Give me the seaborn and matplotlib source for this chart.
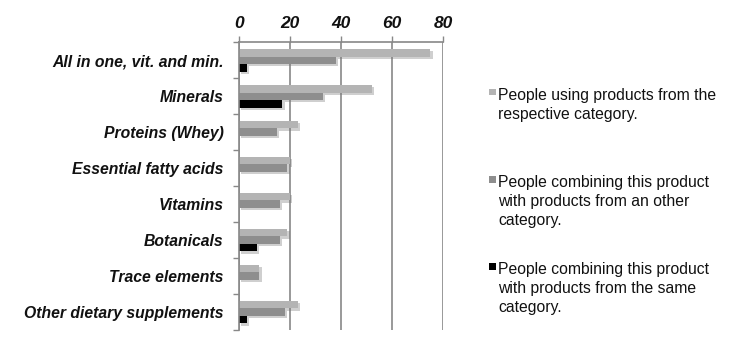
import matplotlib
matplotlib.use("Agg")
import matplotlib.pyplot as plt
import matplotlib.patheffects as pe
from matplotlib.patches import Rectangle
from matplotlib.ticker import FixedLocator
import pandas as pd
import seaborn as sns

categories = [
    "All in one, vit. and min.",
    "Minerals",
    "Proteins (Whey)",
    "Essential fatty acids",
    "Vitamins",
    "Botanicals",
    "Trace elements",
    "Other dietary supplements",
]
users = [75, 52, 23, 20, 20, 19, 8, 23]
combined_other = [38, 33, 15, 19, 16, 16, 8, 18]
combined_same = [3, 17, 0, 0, 0, 7, 0, 3]

series_labels = [
    "People using products from the\nrespective category.",
    "People combining this product\nwith products from an other\ncategory.",
    "People combining this product\nwith products from the same\ncategory.",
]
colors = ["#b4b4b4", "#8e8e8e", "#000000"]
x_ticks = [0, 20, 40, 60, 80]

rows = []
for name, vals in zip(series_labels, [users, combined_other, combined_same]):
    for cat, v in zip(categories, vals):
        rows.append({"category": cat, "share": v, "series": name})
df = pd.DataFrame(rows)

sns.set_theme(style="white")
plt.rcParams["font.family"] = ["Liberation Sans", "DejaVu Sans"]

fig = plt.figure(figsize=(7.4, 3.5), dpi=100)
ax = fig.add_axes([0.323, 0.057, 0.2757, 0.822])

sns.barplot(
    data=df, y="category", x="share", hue="series", order=categories,
    hue_order=series_labels, palette=colors, orient="h", width=0.63,
    gap=0, dodge=True, saturation=1, legend=False, ax=ax, linewidth=0,
)

shadow = [pe.SimplePatchShadow(offset=(1.6, -1.6), shadow_rgbFace="#777777", alpha=0.35),
          pe.Normal()]
for bar in ax.patches:
    bar.set_path_effects(shadow)

ax.set_xlim(0, 80)
ax.set_ylim(len(categories) - 0.5, -0.5)
ax.set_xticks(x_ticks)
ax.xaxis.tick_top()
ax.set_xticklabels([str(t) for t in x_ticks], fontsize=12.5, fontweight="bold",
                   fontstyle="italic", color="#111111")
ax.tick_params(axis="x", which="major", direction="out", length=4, width=1,
               color="#888888", pad=4, top=True, bottom=False)
ax.grid(axis="x", color="#999999", linewidth=1.4)
ax.grid(axis="y", visible=False)
ax.set_axisbelow(True)

ax.set_yticks(range(len(categories)))
ax.set_yticklabels(categories, fontsize=11.3, fontweight="bold", fontstyle="italic",
                   color="#111111")
ax.tick_params(axis="y", which="major", length=0, pad=11)
ax.yaxis.set_minor_locator(FixedLocator([i - 0.5 for i in range(len(categories) + 1)]))
ax.tick_params(axis="y", which="minor", direction="out", length=4, width=1,
               color="#888888", left=True)

ax.set_xlabel("")
ax.set_ylabel("")
for side in ["right", "bottom"]:
    ax.spines[side].set_visible(False)
for side in ["top", "left"]:
    ax.spines[side].set_color("#888888")
    ax.spines[side].set_linewidth(1.2)

# Legend entries placed beside the plot, square marker next to the first line
legend_y = [95, 182, 269]
for label, color, ypx in zip(series_labels, colors, legend_y):
    fy = 1 - ypx / 350
    fig.patches.append(Rectangle((489 / 740, fy - 0.5 / 350), 7 / 740, 6.5 / 350,
                                 transform=fig.transFigure, facecolor=color,
                                 edgecolor="none"))
    fig.text(498 / 740, fy + 7 / 350, label, ha="left", va="top", fontsize=11.3,
             color="#111111", linespacing=1.34)

fig.savefig("out.png", dpi=100)
